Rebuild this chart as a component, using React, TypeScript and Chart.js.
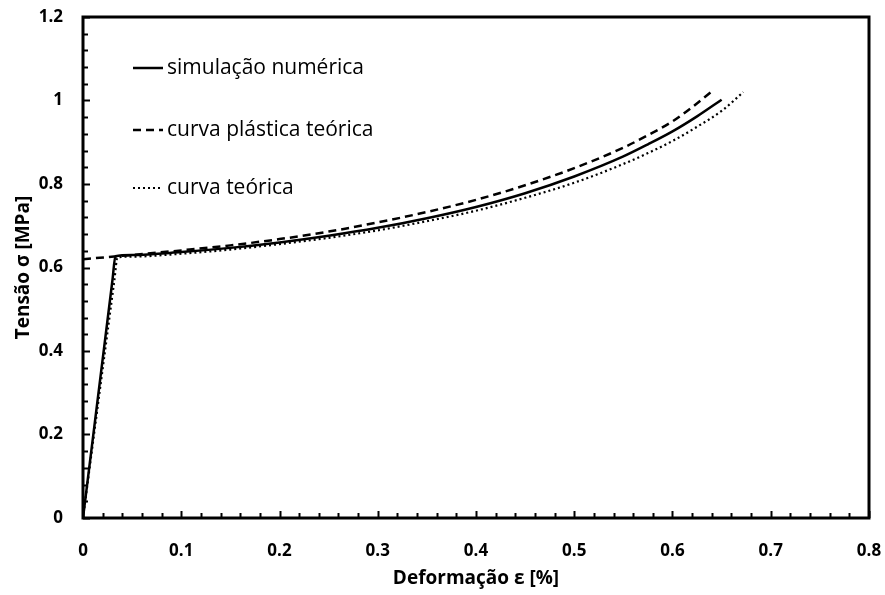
import React, { useEffect, useRef } from 'react';
import { Chart, registerables } from 'chart.js';

Chart.register(...registerables);

const FONT = '"Open Sans", "Noto Sans", sans-serif';

// Series: simulação numérica
const simX = [0, 0.030, 0.033, 0.05, 0.1, 0.15, 0.2, 0.25, 0.3, 0.35, 0.4, 0.45, 0.5, 0.55, 0.575, 0.6, 0.625, 0.65];
const simY = [0, 0.570, 0.627, 0.630, 0.637, 0.647, 0.660, 0.676, 0.695, 0.718, 0.745, 0.778, 0.818, 0.866, 0.895, 0.926, 0.962, 1.002];

// Series: curva plástica teórica
const plasX = [0, 0.05, 0.1, 0.15, 0.2, 0.25, 0.3, 0.35, 0.4, 0.45, 0.5, 0.55, 0.575, 0.6, 0.62, 0.639];
const plasY = [0.620, 0.630, 0.641, 0.653, 0.668, 0.686, 0.708, 0.733, 0.762, 0.797, 0.838, 0.887, 0.917, 0.950, 0.984, 1.020];

// Series: curva teórica
const teoX = [0, 0.032, 0.035, 0.05, 0.1, 0.15, 0.2, 0.25, 0.3, 0.35, 0.4, 0.45, 0.5, 0.55, 0.575, 0.6, 0.625, 0.65, 0.672];
const teoY = [0, 0.571, 0.624, 0.626, 0.633, 0.643, 0.656, 0.671, 0.689, 0.711, 0.736, 0.767, 0.803, 0.848, 0.874, 0.903, 0.937, 0.975, 1.020];

const seriesLabels = ['simulação numérica', 'curva plástica teórica', 'curva teórica'];

const xTickLabels = ['0', '0.1', '0.2', '0.3', '0.4', '0.5', '0.6', '0.7', '0.8'];
const yTickLabels = ['0', '0.2', '0.4', '0.6', '0.8', '1', '1.2'];

const xTitle = 'Deformação ε [%]';
const yTitle = 'Tensão σ [MPa]';

const toPoints = (xs: number[], ys: number[]) => xs.map((x, i) => ({ x, y: ys[i] }));

const dashes: number[][] = [[], [8, 5], [2, 3]];
const widths = [2.5, 2.5, 2.2];

const framePlugin = {
  id: 'frameTicks',
  afterDatasetsDraw(chart: any) {
    const { ctx, chartArea, scales } = chart;
    const xs = scales.x;
    const ys = scales.y;
    ctx.save();
    ctx.strokeStyle = '#000';
    ctx.lineWidth = 2;
    for (let i = 0; i <= 40; i++) {
      const v = i * 0.02;
      const px = Math.round(xs.getPixelForValue(v)) + 0.5;
      const len = i % 5 === 0 ? 7 : 5;
      ctx.beginPath();
      ctx.moveTo(px, chartArea.bottom);
      ctx.lineTo(px, chartArea.bottom - len);
      ctx.stroke();
    }
    for (let i = 0; i <= 30; i++) {
      const v = i * 0.04;
      const py = Math.round(ys.getPixelForValue(v)) + 0.5;
      const len = i % 5 === 0 ? 7 : 5;
      ctx.beginPath();
      ctx.moveTo(chartArea.left, py);
      ctx.lineTo(chartArea.left + len, py);
      ctx.stroke();
    }
    ctx.lineWidth = 3;
    ctx.strokeRect(chartArea.left, chartArea.top, chartArea.right - chartArea.left, chartArea.bottom - chartArea.top);

    // legend
    const rows = [68, 130, 188];
    ctx.font = `21px ${FONT}`;
    ctx.fillStyle = '#000';
    ctx.textBaseline = 'alphabetic';
    ctx.textAlign = 'left';
    chart.data.datasets.forEach((ds: any, i: number) => {
      ctx.lineWidth = widths[i];
      ctx.setLineDash(dashes[i]);
      ctx.beginPath();
      ctx.moveTo(133, rows[i]);
      ctx.lineTo(163, rows[i]);
      ctx.stroke();
      ctx.setLineDash([]);
      ctx.fillText(ds.label, 167, rows[i] + 6);
    });
    ctx.restore();
  },
};

export default function App() {
  const ref = useRef<HTMLCanvasElement | null>(null);
  useEffect(() => {
    if (!ref.current) return;
    const datasets = [
      toPoints(simX, simY),
      toPoints(plasX, plasY),
      toPoints(teoX, teoY),
    ].map((data, i) => ({
      label: seriesLabels[i],
      data,
      borderColor: '#000',
      backgroundColor: '#000',
      borderWidth: widths[i],
      borderDash: dashes[i],
      pointRadius: 0,
      cubicInterpolationMode: 'monotone',
      fill: false,
    }));
    const chart = new Chart(ref.current, {
      type: 'line',
      data: { datasets },
      options: {
        animation: false,
        responsive: false,
        layout: { padding: { top: 17, right: 16, left: 0, bottom: 0 } },
        plugins: { legend: { display: false }, tooltip: { enabled: false } },
        scales: {
          x: {
            type: 'linear',
            min: 0,
            max: 0.8,
            grid: { display: false, drawTicks: false },
            border: { display: false },
            ticks: {
              stepSize: 0.1,
              padding: 23,
              color: '#000',
              font: { family: FONT, size: 17, weight: 'bold' },
              callback: (_v: any, i: number) => xTickLabels[i],
              maxRotation: 0,
              autoSkip: false,
            },
            title: {
              display: true,
              text: xTitle,
              color: '#000',
              font: { family: FONT, size: 19, weight: 'bold' },
              padding: { top: 0, bottom: 5 },
            },
            afterFit: (s: any) => {
              s.height = 77;
              s.paddingLeft = 0;
              s.paddingRight = 0;
            },
          },
          y: {
            type: 'linear',
            min: 0,
            max: 1.2,
            grid: { display: false, drawTicks: false },
            border: { display: false },
            ticks: {
              stepSize: 0.2,
              padding: 20,
              color: '#000',
              font: { family: FONT, size: 17, weight: 'bold' },
              callback: (_v: any, i: number) => yTickLabels[i],
              autoSkip: false,
            },
            title: {
              display: true,
              text: yTitle,
              color: '#000',
              font: { family: FONT, size: 19, weight: 'bold' },
              padding: { top: 12, bottom: 0 },
            },
            afterFit: (s: any) => {
              s.width = 83;
              s.paddingTop = 0;
              s.paddingBottom = 0;
            },
          },
        },
      } as any,
      plugins: [framePlugin],
    });
    return () => chart.destroy();
  }, []);
  return (
    <div style={{ position: 'absolute', left: 0, top: 0, width: 885, height: 595, background: '#fff' }}>
      <canvas ref={ref} width={885} height={595} />
    </div>
  );
}
